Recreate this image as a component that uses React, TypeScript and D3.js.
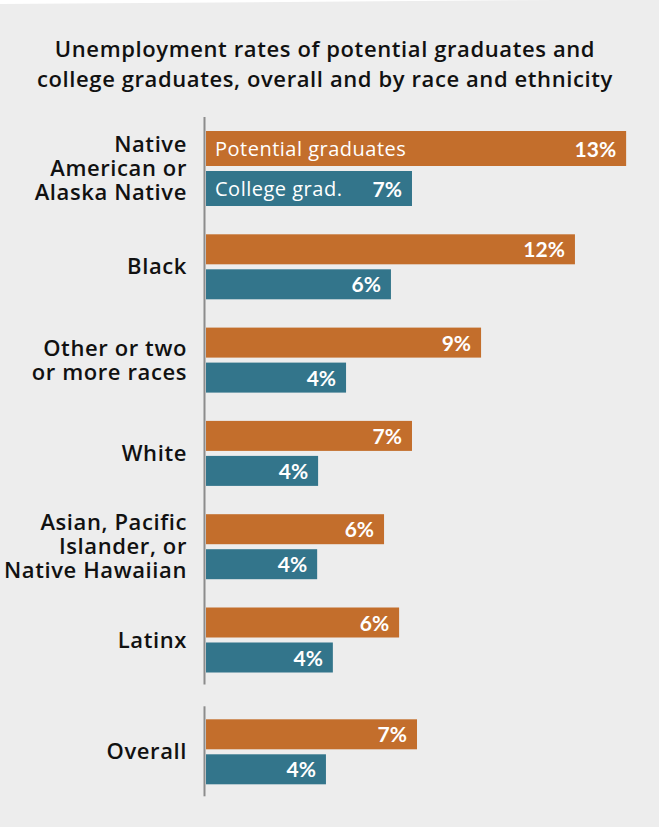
import React from "react";
import * as d3 from "d3";

const categories = [
  ["Native", "American or", "Alaska Native"],
  ["Black"],
  ["Other or two", "or more races"],
  ["White"],
  ["Asian, Pacific", "Islander, or", "Native Hawaiian"],
  ["Latinx"],
  ["Overall"],
];
const potentialGrads = [13.38, 11.75, 8.76, 6.56, 5.67, 6.15, 6.72];
const collegeGrads = [6.56, 5.89, 4.46, 3.57, 3.54, 4.04, 3.82];
const seriesNames = ["Potential graduates", "College grad."];
const titleLines = [
  "Unemployment rates of potential graduates and",
  "college graduates, overall and by race and ethnicity",
];

const W = 659;
const H = 827;
const BG = "#ededed";
const ORANGE = "#c36e2c";
const TEAL = "#33758b";
const FONT = "'Open Sans', Lato, sans-serif";
const NUMFONT = "Lato, sans-serif";

export default function App() {
  const x0 = 206;
  const x = d3.scaleLinear().domain([0, 14]).range([x0, x0 + 14 * 31.4]);

  const innerGap = 5;
  const groupGap = 28.3;
  const overallExtra = 18.5;
  let cursor = 131;
  const groups = categories.map((lines, i) => {
    const h = i === 0 ? 35 : 30;
    if (i === categories.length - 1) cursor += overallExtra;
    const top = cursor;
    const g = {
      lines,
      h,
      top,
      p: potentialGrads[i],
      c: collegeGrads[i],
      center: top + h + innerGap / 2,
      bottom: top + 2 * h + innerGap,
    };
    cursor = g.bottom + groupGap;
    return g;
  });

  const main = groups.slice(0, groups.length - 1);
  const overall = groups[groups.length - 1];

  return (
    <svg
      width={W}
      height={H}
      style={{ display: "block", position: "absolute", left: 0, top: 0 }}
    >
      <rect x={0} y={0} width={W} height={H} fill={BG} />
      <polygon points="0,0 560,0 0,4" fill="#ffffff" />
      {titleLines.map((t, i) => (
        <text
          key={i}
          x={325}
          y={57 + i * 29.5}
          textAnchor="middle"
          fontFamily={FONT}
          fontWeight={600}
          fontSize={22}
          letterSpacing={0.6}
          fill="#111"
        >
          {t}
        </text>
      ))}
      <line
        x1={204.5}
        x2={204.5}
        y1={main[0].top - 14}
        y2={main[main.length - 1].bottom + 12}
        stroke="#8c8c8c"
        strokeWidth={2}
      />
      <line
        x1={204.5}
        x2={204.5}
        y1={overall.top - 13}
        y2={overall.bottom + 12}
        stroke="#8c8c8c"
        strokeWidth={2}
      />
      {groups.map((g, i) => {
        const n = g.lines.length;
        const lh = 24.2;
        return (
          <g key={i}>
            <rect
              x={x(0)}
              y={g.top}
              width={x(g.p) - x(0)}
              height={g.h}
              fill={ORANGE}
            />
            <rect
              x={x(0)}
              y={g.top + g.h + innerGap}
              width={x(g.c) - x(0)}
              height={g.h}
              fill={TEAL}
            />
            <text
              x={x(g.p) - 10}
              y={g.top + g.h / 2 + 8}
              textAnchor="end"
              fontFamily={NUMFONT}
              fontWeight={700}
              fontSize={21}
              fill="#fff"
            >
              {Math.round(g.p) + "%"}
            </text>
            <text
              x={x(g.c) - 10}
              y={g.top + g.h + innerGap + g.h / 2 + 8}
              textAnchor="end"
              fontFamily={NUMFONT}
              fontWeight={700}
              fontSize={21}
              fill="#fff"
            >
              {Math.round(g.c) + "%"}
            </text>
            {i === 0 && (
              <>
                <text
                  x={x(0) + 9}
                  y={g.top + g.h / 2 + 7.5}
                  fontFamily={FONT}
                  fontSize={20}
                  letterSpacing={0.5}
                  fill="#fff"
                >
                  {seriesNames[0]}
                </text>
                <text
                  x={x(0) + 9}
                  y={g.top + g.h + innerGap + g.h / 2 + 7.5}
                  fontFamily={FONT}
                  fontSize={20}
                  letterSpacing={0.5}
                  fill="#fff"
                >
                  {seriesNames[1]}
                </text>
              </>
            )}
            {g.lines.map((l, j) => (
              <text
                key={j}
                x={187}
                y={g.center + 7.5 + (j - (n - 1) / 2) * lh}
                textAnchor="end"
                fontFamily={FONT}
                fontWeight={600}
                fontSize={22}
                letterSpacing={0.6}
                fill="#111"
              >
                {l}
              </text>
            ))}
          </g>
        );
      })}
    </svg>
  );
}
